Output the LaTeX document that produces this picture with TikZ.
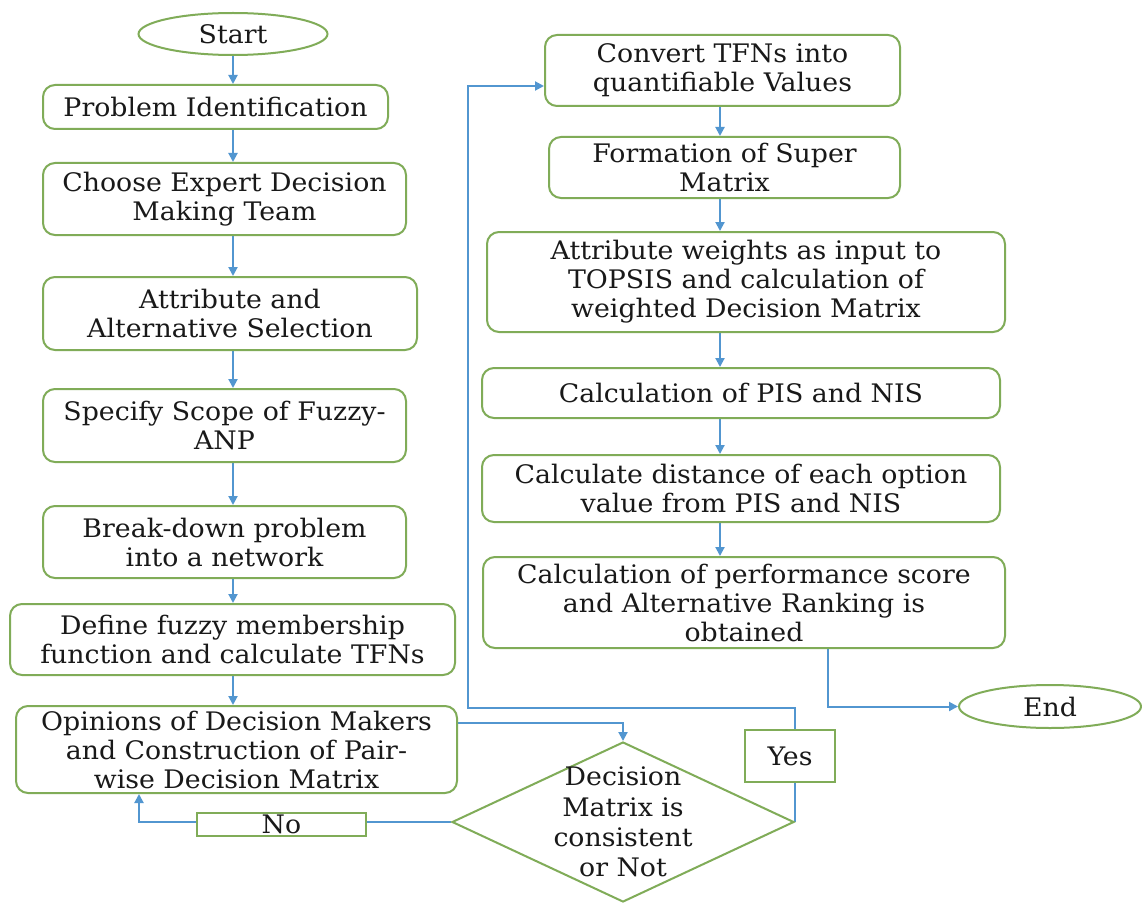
\documentclass[tikz,border=0pt]{standalone}
\usepackage{fontspec}
\setmainfont{DejaVu Serif}[FakeStretch=1.05]
\usetikzlibrary{shapes.geometric,arrows.meta,backgrounds}
\definecolor{bgreen}{RGB}{128,172,88}
\definecolor{ablue}{RGB}{82,150,208}
\definecolor{tcol}{RGB}{25,25,25}
\newcommand\flowfont{\fontsize{25.5}{29}\selectfont}
\tikzset{
  procbox/.style={draw=bgreen, line width=2pt, rounded corners=12pt, fill=white,
    align=center, inner sep=0pt, font=\flowfont, text=tcol},
  labbox/.style={draw=bgreen, line width=2pt, fill=white, align=center,
    inner sep=0pt, font=\flowfont, text=tcol},
  term/.style={ellipse, draw=bgreen, line width=2pt, fill=white, inner sep=0pt,
    font=\flowfont, text=tcol},
  decis/.style={diamond, draw=bgreen, line width=2pt, fill=white, inner sep=0pt},
  plaintext/.style={align=center, inner sep=0pt, font=\flowfont, text=tcol},
  conn/.style={draw=ablue, line width=2pt, -{Triangle[length=9pt,width=9pt]}},
}
\begin{document}
\begin{tikzpicture}[x=1pt,y=-1pt]
\useasboundingbox (0,0) rectangle (1142,904);
% left column
\node[term, minimum width=189pt, minimum height=42pt] (start) at (233,34) {Start};
\node[procbox, minimum width=345pt, minimum height=44pt] (prob) at (215.5,107) {Problem Identification};
\node[procbox, minimum width=363pt, minimum height=72pt] (choose) at (224.5,199) {Choose Expert Decision\\Making Team};
\node[procbox, minimum width=374pt, minimum height=73pt] (attr) at (230,313.5) {Attribute and\\Alternative Selection};
\node[procbox, minimum width=363pt, minimum height=73pt] (spec) at (224.5,425.5) {Specify Scope of Fuzzy-\\ANP};
\node[procbox, minimum width=363pt, minimum height=72pt] (brk) at (224.5,542) {Break-down problem\\into a network};
\node[procbox, minimum width=445pt, minimum height=71pt] (def) at (232.5,639.5) {Define fuzzy membership\\function and calculate TFNs};
\node[procbox, minimum width=441pt, minimum height=87pt] (opin) at (236.5,749.5) {Opinions of Decision Makers\\and Construction of Pair-\\wise Decision Matrix};
% decision
\node[decis, minimum width=342pt, minimum height=160pt] (dec) at (623,822) {};
\node[plaintext, font=\fontsize{25.5}{30.3}\selectfont] (dectxt) at (dec.center) {Decision\\Matrix is\\consistent\\or Not};
\node[labbox, minimum width=169pt, minimum height=23pt] (no) at (281.5,824.5) {No};
\node[labbox, minimum width=90pt, minimum height=52pt] (yes) at (790,756) {Yes};
% right column
\coordinate (rx) at (720,0);
\node[procbox, minimum width=355pt, minimum height=71pt] (conv) at (722.5,70.5) {Convert TFNs into\\quantifiable Values};
\node[procbox, minimum width=351pt, minimum height=61pt] (form) at (724.5,167.5) {Formation of Super\\Matrix};
\node[procbox, minimum width=518pt, minimum height=100pt] (aw) at (746,282) {Attribute weights as input to\\TOPSIS and calculation of\\weighted Decision Matrix};
\node[procbox, minimum width=518pt, minimum height=50pt] (pis) at (741,393) {Calculation of PIS and NIS};
\node[procbox, minimum width=518pt, minimum height=67pt] (dist) at (741,488.5) {Calculate distance of each option\\value from PIS and NIS};
\node[procbox, minimum width=522pt, minimum height=91pt] (perf) at (744,602.5) {Calculation of performance score\\and Alternative Ranking is\\obtained};
\node[term, minimum width=182pt, minimum height=43pt] (end) at (1050,706.5) {End};
\coordinate (yr) at (468,708);
\coordinate (convin) at ([yshift=-15.5pt]conv.west);
\begin{scope}[on background layer]
\fill[white] (0,0) rectangle (1142,904);
\draw[conn] (start.south) -- (start.south |- prob.north);
\draw[conn] (prob.south -| start) -- (choose.north -| start);
\draw[conn] (choose.south -| start) -- (attr.north -| start);
\draw[conn] (attr.south -| start) -- (spec.north -| start);
\draw[conn] (spec.south -| start) -- (brk.north -| start);
\draw[conn] (brk.south -| start) -- (def.north -| start);
\draw[conn] (def.south -| start) -- (opin.north -| start);
\draw[conn] ([yshift=26.5pt]opin.east) -| (dec.north);
\draw[conn] (dec.west) -| ([xshift=-97.5pt]opin.south);
\draw[conn] (dec.east) -- (dec.east |- yr) -- (yr) -- (yr |- convin) -- (convin);
\draw[conn] (conv.south -| rx) -- (form.north -| rx);
\draw[conn] (form.south -| rx) -- (aw.north -| rx);
\draw[conn] (aw.south -| rx) -- (pis.north -| rx);
\draw[conn] (pis.south -| rx) -- (dist.north -| rx);
\draw[conn] (dist.south -| rx) -- (perf.north -| rx);
\draw[conn] ([xshift=84pt]perf.south) |- (end.west);
\end{scope}
\end{tikzpicture}
\end{document}
